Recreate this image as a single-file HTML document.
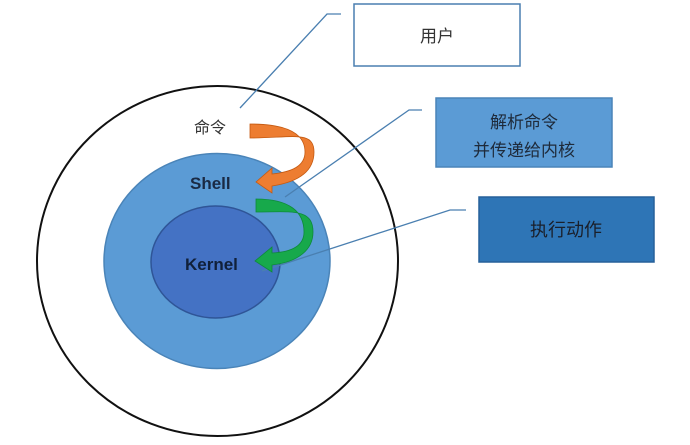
<!DOCTYPE html>
<html><head><meta charset="utf-8"><style>
html,body{margin:0;padding:0;background:#fff}
svg{display:block}
text{font-family:"Liberation Sans","Noto Sans CJK SC",sans-serif}
</style></head><body>
<svg width="690" height="445" viewBox="0 0 690 445" xmlns="http://www.w3.org/2000/svg">
<ellipse cx="217.5" cy="261" rx="180.5" ry="175" fill="#fff" stroke="#111" stroke-width="2"/>
<ellipse cx="217" cy="261" rx="113" ry="107.5" fill="#5b9bd5" stroke="#4a84b8" stroke-width="1.5"/>
<ellipse cx="215.5" cy="262" rx="64.5" ry="56" fill="#4472c4" stroke="#2f5597" stroke-width="1.5"/>
<polyline points="240,108 327,14 341,14" fill="none" stroke="#4a7fb0" stroke-width="1.3"/>
<polyline points="285,197 409,110 422,110" fill="none" stroke="#4a7fb0" stroke-width="1.3"/>
<polyline points="262,271 450,210 466,210" fill="none" stroke="#4a7fb0" stroke-width="1.3"/>
<path d="M250,124 C290,124 305,135 305,152 C305,166 292,172 272,174 L272,168 L256,182 L272,193 L272,186 C298,182 314,172 314,152 C314,130 292,138 250,138 Z" fill="#ed7d31" stroke="#c55a11" stroke-width="0.8"/>
<path d="M256,199 C290,199 304,212 304,232 C304,246 292,252 272,253 L272,247 L255,261 L272,272 L272,265 C298,262 313,250 313,232 C313,208 292,212 256,212 Z" fill="#17a94b" stroke="#0e8a3a" stroke-width="0.8"/>
<text x="194" y="133" font-size="16" fill="#333">命令</text>
<text x="190" y="189" font-size="17" font-weight="bold" fill="#1a2a44">Shell</text>
<text x="185" y="270" font-size="17" font-weight="bold" fill="#10203a">Kernel</text>
<rect x="354" y="4" width="166" height="62" fill="#fff" stroke="#4a7fb0" stroke-width="1.5"/>
<text x="437" y="42" font-size="17" fill="#333" text-anchor="middle">用户</text>
<rect x="436" y="98" width="176" height="69" fill="#5b9bd5" stroke="#4a84b8" stroke-width="1.5"/>
<text x="524" y="128" font-size="17" fill="#1e2a3a" text-anchor="middle">解析命令</text>
<text x="524" y="156" font-size="17" fill="#1e2a3a" text-anchor="middle">并传递给内核</text>
<rect x="479" y="197" width="175" height="65" fill="#2e75b6" stroke="#26609a" stroke-width="1.5"/>
<text x="566" y="236" font-size="18" fill="#1a1f2a" text-anchor="middle">执行动作</text>
</svg>
</body></html>
